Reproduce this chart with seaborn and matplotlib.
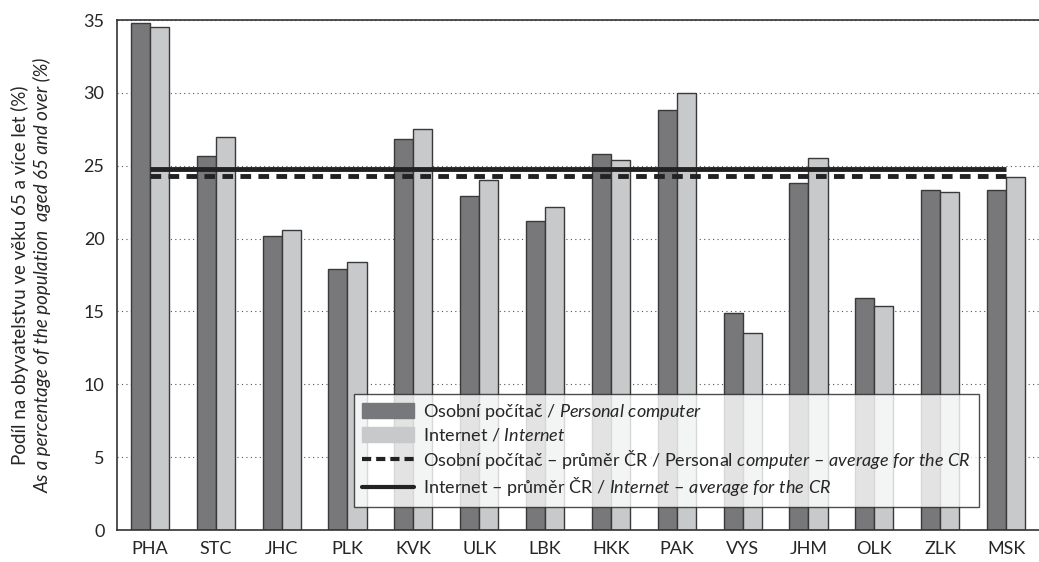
import numpy as np
import pandas as pd
import seaborn as sns
import matplotlib.pyplot as plt
from matplotlib.patches import Patch
from matplotlib.lines import Line2D

regions = ["PHA", "STC", "JHC", "PLK", "KVK", "ULK", "LBK", "HKK", "PAK", "VYS", "JHM", "OLK", "ZLK", "MSK"]
pc_share = [34.8, 25.7, 20.2, 17.9, 26.8, 22.9, 21.2, 25.8, 28.8, 14.9, 23.8, 15.9, 23.3, 23.3]
internet_share = [34.5, 27.0, 20.6, 18.4, 27.5, 24.0, 22.2, 25.4, 30.0, 13.5, 25.5, 15.4, 23.2, 24.2]
pc_avg = 24.3
internet_avg = 24.8
series_names = ["pc", "internet"]

df = pd.DataFrame({
    "region": regions * 2,
    "value": pc_share + internet_share,
    "series": [series_names[0]] * len(regions) + [series_names[1]] * len(regions),
})

sns.set_style("white")
plt.rcParams["font.family"] = ["Lato", "DejaVu Sans"]
plt.rcParams["mathtext.fontset"] = "custom"
plt.rcParams["mathtext.rm"] = "Lato"
plt.rcParams["mathtext.it"] = "Lato:italic"

dark = "#77787c"
light = "#c8c9cb"

fig = plt.figure(figsize=(10.39, 5.62), dpi=100)
ax = fig.add_axes([0.1126, 0.0569, 0.8874, 0.9075])

ax.set_axisbelow(True)
ax.yaxis.grid(True, linestyle=(0, (1, 3)), color="#555555", linewidth=0.8)

sns.barplot(data=df, x="region", y="value", hue="series", palette=[dark, light],
            width=0.58, gap=0, edgecolor="#3a3a3a", linewidth=1.0, legend=False, ax=ax)

ax.hlines(internet_avg, 0, len(regions) - 1, color="#222222", linewidth=3.5, zorder=5)
ax.hlines(pc_avg, 0, len(regions) - 1, color="#222222", linewidth=3.5,
          linestyles=(0, (2.2, 1.5)), zorder=5)

ax.set_ylim(0, 35)
ax.set_xlim(-0.5, len(regions) - 0.5)
ax.set_yticks(range(0, 36, 5))
ax.tick_params(axis="y", length=0, labelsize=13, pad=9)
ax.tick_params(axis="x", which="major", length=0, labelsize=13, pad=8)
ax.set_xticks(np.arange(-0.5, len(regions), 1), minor=True)
ax.tick_params(axis="x", which="minor", length=5, width=1, color="#333333")
ax.set_xlabel("")
ax.set_ylabel("")

for side in ["left", "top", "bottom"]:
    ax.spines[side].set_color("#333333")
    ax.spines[side].set_linewidth(1.2)
ax.spines["right"].set_visible(False)

fig.text(0.019, 0.51, "Podíl na obyvatelstvu ve věku 65 a více let (%)", rotation=90,
         ha="center", va="center", fontsize=13.5)
fig.text(0.041, 0.51, "As a percentage of the population  aged 65 and over (%)", rotation=90,
         ha="center", va="center", fontsize=13.5, style="italic")

handles = [
    Patch(facecolor=dark, edgecolor=dark),
    Patch(facecolor=light, edgecolor=light),
    Line2D([], [], color="#222222", linewidth=3, linestyle=(0, (2.2, 1.2))),
    Line2D([], [], color="#222222", linewidth=3),
]
labels = [
    r"Osobní počítač / $\mathit{Personal\ computer}$",
    r"Internet / $\mathit{Internet}$",
    r"Osobní počítač – průměr ČR / Personal $\mathit{computer\ –\ average\ for\ the\ CR}$",
    r"Internet – průměr ČR / $\mathit{Internet\ –\ average\ for\ the\ CR}$",
]
leg = ax.legend(handles, labels, loc="lower left", bbox_to_anchor=(0.257, 0.046),
                fontsize=13, frameon=True, fancybox=False, handlelength=2.9,
                handleheight=0.9, labelspacing=0.25, borderpad=0.45, handletextpad=0.5,
                borderaxespad=0)
leg.get_frame().set_edgecolor("#222222")
leg.get_frame().set_linewidth(1.0)
leg.set_zorder(10)

fig.savefig("out.png", dpi=100)
